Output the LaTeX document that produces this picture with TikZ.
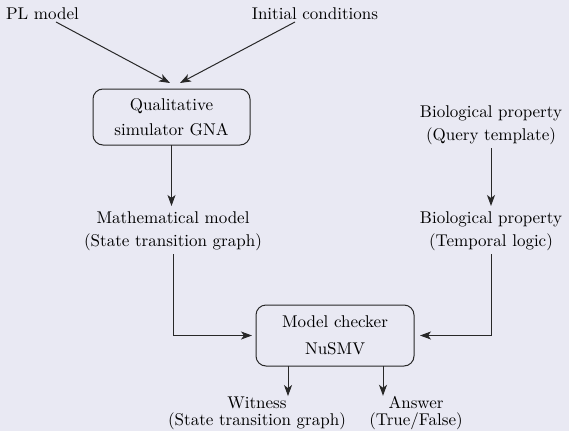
\documentclass[tikz,border=0pt]{standalone}
\usepackage{fontspec}
\setmainfont{lmroman10-regular.otf}
\usetikzlibrary{arrows.meta,calc}
\definecolor{bgc}{RGB}{233,233,243}
\definecolor{linec}{RGB}{40,40,40}
\begin{document}
\begin{tikzpicture}[x=1pt,y=-1pt,
  every node/.style={font=\fontsize{17}{23}\selectfont, inner sep=0pt, outer sep=0pt, text=black},
  arr/.style={draw=linec, line width=1pt, -{Stealth[length=11pt,width=8pt,inset=3pt]}},
  procbox/.style={draw=linec, line width=1pt, rounded corners=10pt, align=center},
  lbl/.style={align=center}
]
\fill[bgc] (0,0) rectangle (569,431);
\useasboundingbox (0,0) rectangle (569,431);

\node (pl) at (42.5,14) {PL model};
\node (ic) at (315,14) {Initial conditions};
\node[procbox, minimum width=157pt, minimum height=56pt, font=\fontsize{17}{25}\selectfont] (gna) at (171.5,117) {Qualitative\\simulator GNA};
\node[lbl] (mm) at (173,231.5) {Mathematical model\\(State transition graph)};
\node[lbl] (bq) at (491,125.5) {Biological property\\(Query template)};
\node[lbl] (bt) at (491,231.5) {Biological property\\(Temporal logic)};
\node[procbox, minimum width=158pt, minimum height=61pt, font=\fontsize{17}{27}\selectfont] (mc) at (335,335.5) {Model checker\\NuSMV};
\node[lbl, font=\fontsize{17}{17}\selectfont] (wit) at (257,413.5) {Witness\\(State transition graph)};
\node[lbl, font=\fontsize{17}{17}\selectfont] (ans) at (416,413.5) {Answer\\(True/False)};

\draw[arr] ([xshift=13.5pt,yshift=-2pt]pl.south) -- ([xshift=-1.5pt,yshift=6pt]gna.north);
\draw[arr] ([xshift=-20pt,yshift=-2pt]ic.south) -- ([xshift=8.5pt,yshift=6pt]gna.north);
\draw[arr] (gna.south) -- ([yshift=6pt]gna.south |- mm.north);
\draw[arr] ([yshift=-3pt]bq.south) -- ([yshift=6pt]bq.south |- bt.north);
\draw[arr, shorten >=4pt] ([yshift=-3pt]mm.south) |- (mc.west);
\draw[arr, shorten >=6pt] ([yshift=-3pt]bt.south) |- (mc.east);
\draw[arr] ([xshift=-47pt]mc.south) -- ([xshift=-47pt,yshift=1pt]mc.south |- wit.north);
\draw[arr] ([xshift=48pt]mc.south) -- ([xshift=48pt,yshift=1pt]mc.south |- ans.north);
\end{tikzpicture}
\end{document}
